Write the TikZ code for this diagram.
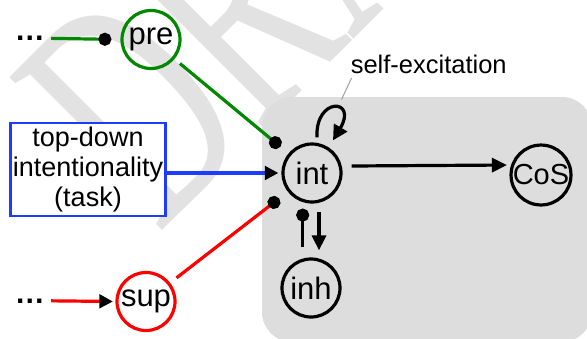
\documentclass[tikz,border=0pt]{standalone}
\usepackage{fontspec}
\setmainfont{Liberation Sans}
\newfontfamily\wmfont{Liberation Serif}
\usetikzlibrary{arrows.meta}

\definecolor{netgreen}{RGB}{0,136,0}
\definecolor{netred}{RGB}{255,0,0}
\definecolor{netblue}{RGB}{30,60,255}
\definecolor{fieldgray}{RGB}{221,221,221}
\definecolor{markgray}{RGB}{226,226,226}
\definecolor{notegray}{RGB}{160,160,160}

\begin{document}
\begin{tikzpicture}[x=1pt,y=-1pt,
  unitnode/.style={circle, draw, line width=3.2pt, minimum size=58pt, inner sep=0pt,
    font=\fontsize{31}{31}\selectfont},
  link/.style={line width=3.2pt},
  excite/.style={link, -{Triangle[length=15pt,width=14pt,black]}},
  inhibit/.style={link, -{Circle[length=13pt,black]}},
  feed/.style={link, -{Triangle[length=13.5pt,width=13.5pt,black]}},
  srcdots/.style={inner sep=0pt, anchor=base, font=\fontsize{30}{30}\bfseries\selectfont},
  callout/.style={draw=notegray, line width=1pt},
]
\useasboundingbox (0,0) rectangle (587,338);
\clip (0,0) rectangle (587,338);

% watermark
\node[rotate=45, xscale=0.6, anchor=base west, text=markgray, inner sep=0pt,
  font=\wmfont\fontsize{330}{330}\selectfont] (draftmark) at (158,235) {DRAFT};

% grey field holding the intention unit
\fill[fieldgray, rounded corners=30pt] (262,97) rectangle (592,342);

% units
\node[unitnode, draw=netgreen] (pre) at (151,39.5) {pre};
\node[unitnode] (int) at (312,173) {int};
\node[unitnode] (inh) at (311,288) {inh};
\node[unitnode, font=\fontsize{29}{29}\selectfont] (cos) at (541,175) {CoS};
\node[unitnode, draw=netred] (sup) at (146,301.5) {sup};

% task input box
\node[draw=netblue, fill=white, line width=2.6pt, minimum width=155pt, minimum height=93pt,
  inner sep=0pt, align=center, font=\fontsize{27}{30}\selectfont]
  (task) at (88,169.4) {top-down\\intentionality\\(task)};

% incoming chains
\node[srcdots] (presrc) at (30,40.5) {…};
\node[srcdots] (supsrc) at (30,303) {…};

\draw[inhibit, draw=netgreen, shorten <=6pt, shorten >=9pt] (presrc.east) -- (pre.west);
\draw[feed, draw=netred, shorten <=6pt, shorten >=2.5pt] (supsrc.east) -- (sup.west);

% inputs to int
\draw[inhibit, draw=netgreen, shorten <=7pt, shorten >=10.5pt] (pre) -- (int);
\draw[inhibit, draw=netred, shorten <=8pt, shorten >=11pt] (sup) -- (int);
\draw[feed, draw=netblue, shorten >=3pt] (task.east |- int.west) -- (int.west);

% self-excitation loop
\draw[link, -{Triangle[length=15pt,width=15pt,black]}]
  ([shift={(5pt,5pt)}]int.north) .. controls +(-2,-41) and +(25,-42) ..
  ([shift={(21pt,2pt)}]int.north);

% int -> CoS
\draw[excite, shorten >=2.5pt] ([shift={(9pt,7pt)}]int.east) -- ([yshift=10pt]cos.west);

% int <-> inh
\draw[excite] ([shift={(7pt,-8.7pt)}]int.south) -- ([shift={(8pt,7pt)}]inh.north);
\draw[inhibit] ([shift={(-8.3pt,10pt)}]inh.north) -- ([shift={(-9.3pt,-5pt)}]int.south);

% label
\node[inner sep=0pt, anchor=base, font=\fontsize{25.5}{25.5}\selectfont]
  (selfexc) at (428.7,73) {self-excitation};
\coordinate (loopnote) at (341.5,99.5);
\draw[callout] ([shift={(1pt,-5pt)}]selfexc.base west) -- (loopnote);
\end{tikzpicture}
\end{document}
